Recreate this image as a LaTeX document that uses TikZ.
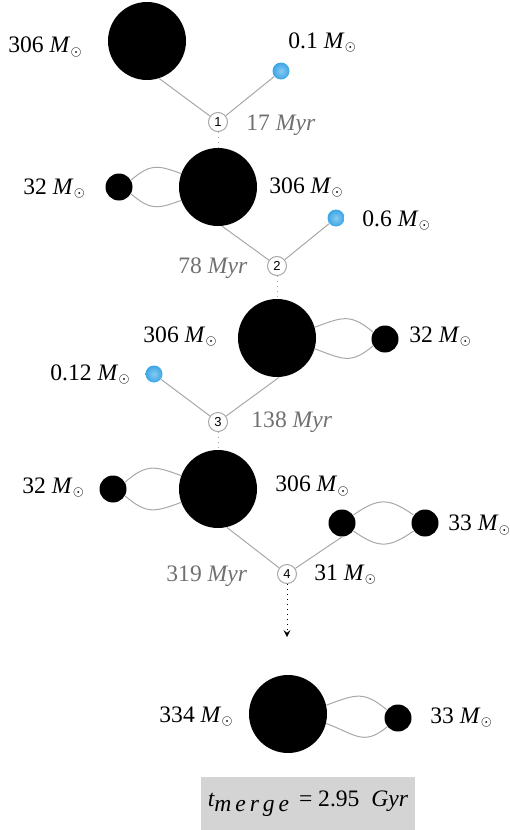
\documentclass[tikz,border=0pt]{standalone}
\usepackage{fontspec}
\setmainfont{Liberation Serif}
\newfontfamily\numfont{Liberation Sans}
\definecolor{linegray}{HTML}{A8A8A8}
\definecolor{timegray}{HTML}{707070}
\definecolor{boxgray}{HTML}{D4D4D4}
\definecolor{starblue}{HTML}{3AA6E6}
\newcommand{\msun}{\textit{M}\raisebox{-0.25ex}{$\scriptscriptstyle\odot$}}
\newcommand{\myr}{\textit{Myr}}
\begin{document}
\begin{tikzpicture}[x=0.5pt,y=-0.5pt,>=stealth,
  bh/.style={circle,fill=black,inner sep=0pt,minimum size=39pt},
  bhs/.style={circle,fill=black,inner sep=0pt,minimum size=13.5pt},
  dwarf/.style={circle,inner sep=0pt,minimum size=8.5pt,shade,inner color=starblue!60!white,outer color=starblue},
  hub/.style={circle,draw=linegray,line width=0.5pt,fill=white,inner sep=0pt,minimum size=9.5pt,font=\numfont\fontsize{6.5}{7}\selectfont},
  lbl/.style={anchor=base west,inner sep=0pt,font=\fontsize{11.8}{14}\selectfont},
  tlbl/.style={lbl,text=timegray},
  link/.style={draw=linegray,line width=0.5pt},
  orbit/.style={link,looseness=1.3},
  drop/.style={draw=linegray,line width=0.5pt,dotted}]
  \useasboundingbox (0,0) rectangle (509,830);
  % first encounter
  \node[bh] (bh1) at (147,41) {};
  \node[dwarf] (dw1) at (281,71) {};
  \node[hub] (ev1) at (218,122) {1};
  \node[lbl] (m1) at (8,53) {306 \msun};
  \node[lbl] (m1d) at (288,48) {0.1 \msun};
  \node[tlbl] (t1) at (246,130.5) {17 \myr};
  \draw[link] (ev1) -- (bh1.-72);
  \draw[link] (ev1) -- (dw1);
  % second encounter
  \node[bh] (bh2) at (218,187) {};
  \node[bhs] (cmp2) at (119,187) {};
  \node[dwarf] (dw2) at (336,218) {};
  \node[hub] (ev2) at (277,266) {2};
  \node[lbl] (m2c) at (23,194) {32 \msun};
  \node[lbl] (m2) at (269,193) {306 \msun};
  \node[lbl] (m2d) at (362,226) {0.6 \msun};
  \node[tlbl] (t2) at (178,273) {78 \myr};
  \draw[drop] (ev1) -- (bh2);
  \draw[orbit] (cmp2.30) to[out=40,in=160] (bh2.160);
  \draw[orbit] (cmp2.-30) to[out=-40,in=-160] (bh2.-160);
  \draw[link] (ev2) -- (bh2.-84);
  \draw[link] (ev2) -- (dw2);
  % third encounter
  \node[bh] (bh3) at (277,338) {};
  \node[bhs] (cmp3) at (385,339) {};
  \node[dwarf] (dw3) at (154,374) {};
  \node[hub] (ev3) at (218,422) {3};
  \node[lbl] (m3) at (143,342) {306 \msun};
  \node[lbl] (m3c) at (409,342) {32 \msun};
  \node[lbl] (m3d) at (50,380) {0.12 \msun};
  \node[tlbl] (t3) at (251,427) {138 \myr};
  \draw[drop] (ev2) -- (bh3);
  \draw[orbit] (bh3.16) to[out=20,in=140] (cmp3.150);
  \draw[orbit] (bh3.-16) to[out=-20,in=-140] (cmp3.-150);
  \draw[link] (ev3) -- (bh3.-87);
  \draw[link] (ev3) -- (dw3);
  % fourth encounter
  \node[bh] (bh4) at (218,489) {};
  \node[bhs] (cmp4) at (113,489) {};
  \node[bhs] (bin4a) at (342,523) {};
  \node[bhs] (bin4b) at (425,523) {};
  \node[hub] (ev4) at (287,574) {4};
  \node[lbl] (m4c) at (22,493) {32 \msun};
  \node[lbl] (m4) at (275,491.5) {306 \msun};
  \node[lbl] (m4b) at (448,530.5) {33 \msun};
  \node[tlbl] (t4) at (166,581.5) {319 \myr};
  \node[lbl] (m4a) at (314,580) {31 \msun};
  \draw[drop] (ev3) -- (bh4);
  \draw[orbit] (cmp4.30) to[out=40,in=160] (bh4.160);
  \draw[orbit] (cmp4.-30) to[out=-40,in=-160] (bh4.-160);
  \draw[orbit] (bin4a.35) to[out=35,in=145] (bin4b.145);
  \draw[orbit] (bin4a.-35) to[out=-35,in=-145] (bin4b.-145);
  \draw[link] (ev4) -- (bh4.-77);
  \draw[link] (ev4) -- (bin4a.-90);
  \coordinate (end4) at (287,637);
  \draw[->,dotted,line width=0.5pt] (ev4) -- (end4);
  % final binary
  \node[bh] (bh5) at (288,714) {};
  \node[bhs] (cmp5) at (398,718) {};
  \node[lbl] (m5) at (159,722) {334 \msun};
  \node[lbl] (m5c) at (430,723) {33 \msun};
  \draw[orbit] (bh5.13) to[out=20,in=140] (cmp5.144);
  \draw[orbit] (bh5.-14) to[out=-20,in=-140] (cmp5.-141);
  \node[fill=boxgray,minimum width=105pt,minimum height=26.5pt,font=\fontsize{11.8}{14}\selectfont] (tm) at (308,803.5)
    {{\itshape t}\raisebox{-0.5ex}{\itshape m\,e\,r\,g\,e}\,\ =\ 2.95\ \ \textit{Gyr}};
\end{tikzpicture}
\end{document}
